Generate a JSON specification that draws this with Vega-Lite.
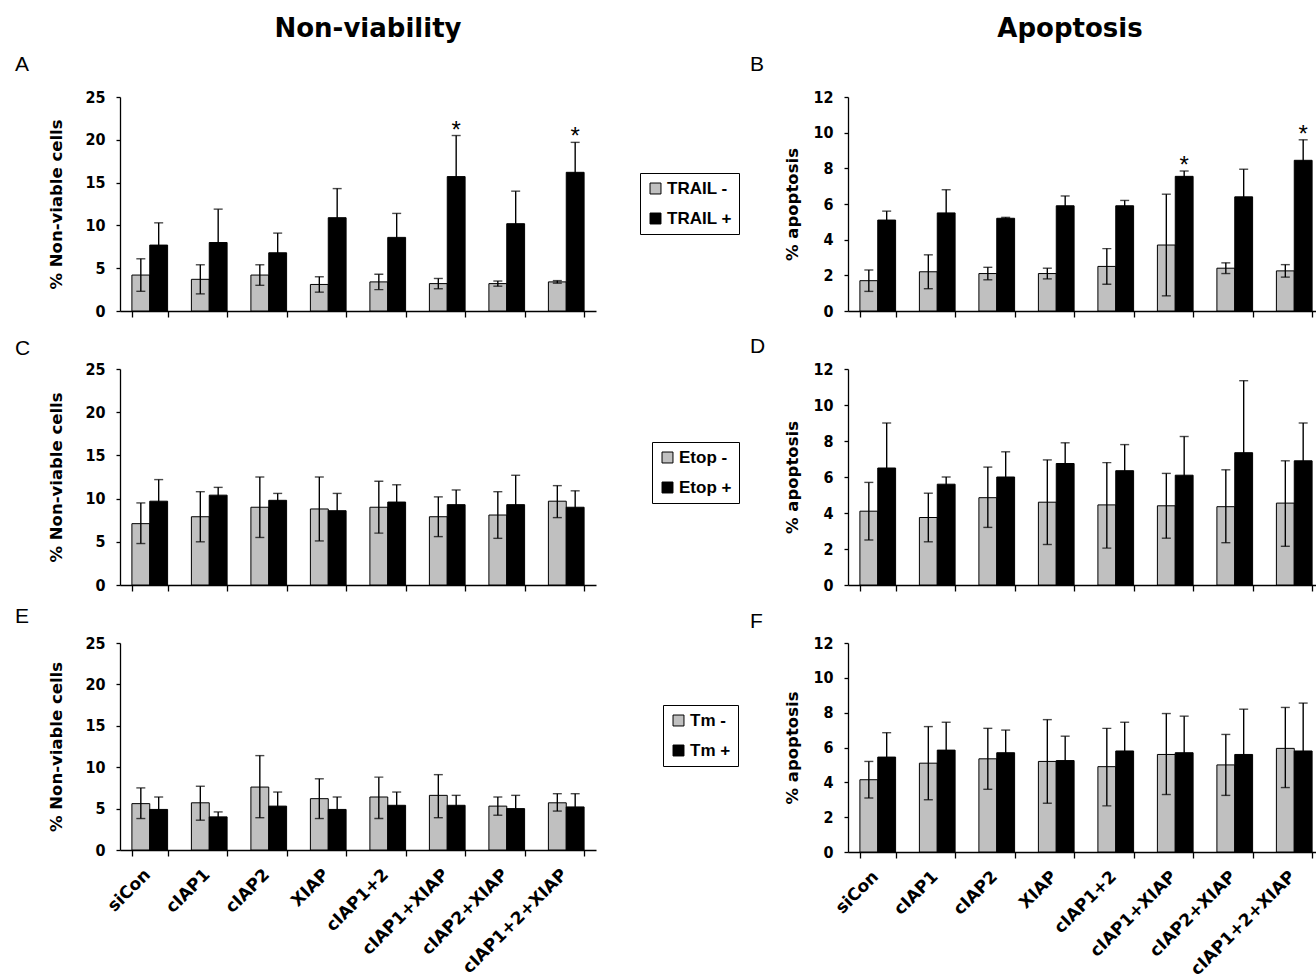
{
  "$schema": "https://vega.github.io/schema/vega-lite/v6.json",
  "padding": {"left": 15, "top": 16, "right": 0, "bottom": 0},
  "background": "white",
  "datasets": {
    "bars": [
      {"p":"A","c":"siCon","g":"-","v":4.2,"lo":2.3,"hi":6.1,"s":""},
      {"p":"A","c":"cIAP1","g":"-","v":3.7,"lo":2.0,"hi":5.4,"s":""},
      {"p":"A","c":"cIAP2","g":"-","v":4.2,"lo":3.0,"hi":5.4,"s":""},
      {"p":"A","c":"XIAP","g":"-","v":3.1,"lo":2.2,"hi":4.0,"s":""},
      {"p":"A","c":"cIAP1+2","g":"-","v":3.4,"lo":2.5,"hi":4.3,"s":""},
      {"p":"A","c":"cIAP1+XIAP","g":"-","v":3.2,"lo":2.6,"hi":3.8,"s":""},
      {"p":"A","c":"cIAP2+XIAP","g":"-","v":3.2,"lo":2.9,"hi":3.5,"s":""},
      {"p":"A","c":"cIAP1+2+XIAP","g":"-","v":3.4,"lo":3.25,"hi":3.55,"s":""},
      {"p":"A","c":"siCon","g":"+","v":7.7,"lo":5.1,"hi":10.3,"s":""},
      {"p":"A","c":"cIAP1","g":"+","v":8.0,"lo":4.1,"hi":11.9,"s":""},
      {"p":"A","c":"cIAP2","g":"+","v":6.8,"lo":4.5,"hi":9.1,"s":""},
      {"p":"A","c":"XIAP","g":"+","v":10.9,"lo":7.5,"hi":14.3,"s":""},
      {"p":"A","c":"cIAP1+2","g":"+","v":8.6,"lo":5.8,"hi":11.4,"s":""},
      {"p":"A","c":"cIAP1+XIAP","g":"+","v":15.7,"lo":10.9,"hi":20.5,"s":"*"},
      {"p":"A","c":"cIAP2+XIAP","g":"+","v":10.2,"lo":6.4,"hi":14.0,"s":""},
      {"p":"A","c":"cIAP1+2+XIAP","g":"+","v":16.2,"lo":12.7,"hi":19.7,"s":"*"},

      {"p":"B","c":"siCon","g":"-","v":1.7,"lo":1.1,"hi":2.3,"s":""},
      {"p":"B","c":"cIAP1","g":"-","v":2.2,"lo":1.25,"hi":3.15,"s":""},
      {"p":"B","c":"cIAP2","g":"-","v":2.1,"lo":1.75,"hi":2.45,"s":""},
      {"p":"B","c":"XIAP","g":"-","v":2.1,"lo":1.8,"hi":2.4,"s":""},
      {"p":"B","c":"cIAP1+2","g":"-","v":2.5,"lo":1.5,"hi":3.5,"s":""},
      {"p":"B","c":"cIAP1+XIAP","g":"-","v":3.7,"lo":0.85,"hi":6.55,"s":""},
      {"p":"B","c":"cIAP2+XIAP","g":"-","v":2.4,"lo":2.1,"hi":2.7,"s":""},
      {"p":"B","c":"cIAP1+2+XIAP","g":"-","v":2.25,"lo":1.9,"hi":2.6,"s":""},
      {"p":"B","c":"siCon","g":"+","v":5.1,"lo":4.6,"hi":5.6,"s":""},
      {"p":"B","c":"cIAP1","g":"+","v":5.5,"lo":4.2,"hi":6.8,"s":""},
      {"p":"B","c":"cIAP2","g":"+","v":5.2,"lo":5.15,"hi":5.25,"s":""},
      {"p":"B","c":"XIAP","g":"+","v":5.9,"lo":5.35,"hi":6.45,"s":""},
      {"p":"B","c":"cIAP1+2","g":"+","v":5.9,"lo":5.6,"hi":6.2,"s":""},
      {"p":"B","c":"cIAP1+XIAP","g":"+","v":7.55,"lo":7.25,"hi":7.85,"s":"*"},
      {"p":"B","c":"cIAP2+XIAP","g":"+","v":6.4,"lo":4.85,"hi":7.95,"s":""},
      {"p":"B","c":"cIAP1+2+XIAP","g":"+","v":8.45,"lo":7.3,"hi":9.6,"s":"*"},

      {"p":"C","c":"siCon","g":"-","v":7.1,"lo":4.8,"hi":9.5,"s":""},
      {"p":"C","c":"cIAP1","g":"-","v":7.9,"lo":5.0,"hi":10.8,"s":""},
      {"p":"C","c":"cIAP2","g":"-","v":9.0,"lo":5.5,"hi":12.5,"s":""},
      {"p":"C","c":"XIAP","g":"-","v":8.8,"lo":5.1,"hi":12.5,"s":""},
      {"p":"C","c":"cIAP1+2","g":"-","v":9.0,"lo":6.0,"hi":12.0,"s":""},
      {"p":"C","c":"cIAP1+XIAP","g":"-","v":7.9,"lo":5.6,"hi":10.2,"s":""},
      {"p":"C","c":"cIAP2+XIAP","g":"-","v":8.1,"lo":5.4,"hi":10.8,"s":""},
      {"p":"C","c":"cIAP1+2+XIAP","g":"-","v":9.7,"lo":7.8,"hi":11.5,"s":""},
      {"p":"C","c":"siCon","g":"+","v":9.7,"lo":7.2,"hi":12.2,"s":""},
      {"p":"C","c":"cIAP1","g":"+","v":10.4,"lo":9.5,"hi":11.3,"s":""},
      {"p":"C","c":"cIAP2","g":"+","v":9.8,"lo":9.0,"hi":10.6,"s":""},
      {"p":"C","c":"XIAP","g":"+","v":8.6,"lo":6.6,"hi":10.6,"s":""},
      {"p":"C","c":"cIAP1+2","g":"+","v":9.6,"lo":7.6,"hi":11.6,"s":""},
      {"p":"C","c":"cIAP1+XIAP","g":"+","v":9.3,"lo":7.6,"hi":11.0,"s":""},
      {"p":"C","c":"cIAP2+XIAP","g":"+","v":9.3,"lo":5.9,"hi":12.7,"s":""},
      {"p":"C","c":"cIAP1+2+XIAP","g":"+","v":9.0,"lo":7.1,"hi":10.9,"s":""},

      {"p":"D","c":"siCon","g":"-","v":4.1,"lo":2.5,"hi":5.7,"s":""},
      {"p":"D","c":"cIAP1","g":"-","v":3.75,"lo":2.4,"hi":5.1,"s":""},
      {"p":"D","c":"cIAP2","g":"-","v":4.85,"lo":3.2,"hi":6.55,"s":""},
      {"p":"D","c":"XIAP","g":"-","v":4.6,"lo":2.25,"hi":6.95,"s":""},
      {"p":"D","c":"cIAP1+2","g":"-","v":4.45,"lo":2.05,"hi":6.8,"s":""},
      {"p":"D","c":"cIAP1+XIAP","g":"-","v":4.4,"lo":2.6,"hi":6.2,"s":""},
      {"p":"D","c":"cIAP2+XIAP","g":"-","v":4.35,"lo":2.35,"hi":6.4,"s":""},
      {"p":"D","c":"cIAP1+2+XIAP","g":"-","v":4.55,"lo":2.15,"hi":6.9,"s":""},
      {"p":"D","c":"siCon","g":"+","v":6.5,"lo":4.0,"hi":9.0,"s":""},
      {"p":"D","c":"cIAP1","g":"+","v":5.6,"lo":5.2,"hi":6.0,"s":""},
      {"p":"D","c":"cIAP2","g":"+","v":6.0,"lo":4.6,"hi":7.4,"s":""},
      {"p":"D","c":"XIAP","g":"+","v":6.75,"lo":5.6,"hi":7.9,"s":""},
      {"p":"D","c":"cIAP1+2","g":"+","v":6.35,"lo":4.9,"hi":7.8,"s":""},
      {"p":"D","c":"cIAP1+XIAP","g":"+","v":6.1,"lo":3.95,"hi":8.25,"s":""},
      {"p":"D","c":"cIAP2+XIAP","g":"+","v":7.35,"lo":3.35,"hi":11.35,"s":""},
      {"p":"D","c":"cIAP1+2+XIAP","g":"+","v":6.9,"lo":4.8,"hi":9.0,"s":""},

      {"p":"E","c":"siCon","g":"-","v":5.6,"lo":3.8,"hi":7.5,"s":""},
      {"p":"E","c":"cIAP1","g":"-","v":5.7,"lo":3.6,"hi":7.7,"s":""},
      {"p":"E","c":"cIAP2","g":"-","v":7.6,"lo":3.9,"hi":11.4,"s":""},
      {"p":"E","c":"XIAP","g":"-","v":6.2,"lo":3.8,"hi":8.6,"s":""},
      {"p":"E","c":"cIAP1+2","g":"-","v":6.4,"lo":3.8,"hi":8.8,"s":""},
      {"p":"E","c":"cIAP1+XIAP","g":"-","v":6.6,"lo":3.9,"hi":9.1,"s":""},
      {"p":"E","c":"cIAP2+XIAP","g":"-","v":5.3,"lo":4.2,"hi":6.4,"s":""},
      {"p":"E","c":"cIAP1+2+XIAP","g":"-","v":5.7,"lo":4.7,"hi":6.8,"s":""},
      {"p":"E","c":"siCon","g":"+","v":4.9,"lo":3.4,"hi":6.4,"s":""},
      {"p":"E","c":"cIAP1","g":"+","v":4.0,"lo":3.4,"hi":4.6,"s":""},
      {"p":"E","c":"cIAP2","g":"+","v":5.3,"lo":3.6,"hi":7.0,"s":""},
      {"p":"E","c":"XIAP","g":"+","v":4.9,"lo":3.4,"hi":6.4,"s":""},
      {"p":"E","c":"cIAP1+2","g":"+","v":5.4,"lo":3.8,"hi":7.0,"s":""},
      {"p":"E","c":"cIAP1+XIAP","g":"+","v":5.4,"lo":4.1,"hi":6.6,"s":""},
      {"p":"E","c":"cIAP2+XIAP","g":"+","v":5.0,"lo":3.4,"hi":6.6,"s":""},
      {"p":"E","c":"cIAP1+2+XIAP","g":"+","v":5.2,"lo":3.6,"hi":6.8,"s":""},

      {"p":"F","c":"siCon","g":"-","v":4.15,"lo":3.1,"hi":5.2,"s":""},
      {"p":"F","c":"cIAP1","g":"-","v":5.1,"lo":3.0,"hi":7.2,"s":""},
      {"p":"F","c":"cIAP2","g":"-","v":5.35,"lo":3.6,"hi":7.1,"s":""},
      {"p":"F","c":"XIAP","g":"-","v":5.2,"lo":2.8,"hi":7.6,"s":""},
      {"p":"F","c":"cIAP1+2","g":"-","v":4.9,"lo":2.65,"hi":7.1,"s":""},
      {"p":"F","c":"cIAP1+XIAP","g":"-","v":5.6,"lo":3.3,"hi":7.95,"s":""},
      {"p":"F","c":"cIAP2+XIAP","g":"-","v":5.0,"lo":3.25,"hi":6.75,"s":""},
      {"p":"F","c":"cIAP1+2+XIAP","g":"-","v":5.95,"lo":3.7,"hi":8.3,"s":""},
      {"p":"F","c":"siCon","g":"+","v":5.45,"lo":4.05,"hi":6.85,"s":""},
      {"p":"F","c":"cIAP1","g":"+","v":5.85,"lo":4.25,"hi":7.45,"s":""},
      {"p":"F","c":"cIAP2","g":"+","v":5.7,"lo":4.4,"hi":7.0,"s":""},
      {"p":"F","c":"XIAP","g":"+","v":5.25,"lo":3.85,"hi":6.65,"s":""},
      {"p":"F","c":"cIAP1+2","g":"+","v":5.8,"lo":4.15,"hi":7.45,"s":""},
      {"p":"F","c":"cIAP1+XIAP","g":"+","v":5.7,"lo":3.65,"hi":7.8,"s":""},
      {"p":"F","c":"cIAP2+XIAP","g":"+","v":5.6,"lo":3.0,"hi":8.2,"s":""},
      {"p":"F","c":"cIAP1+2+XIAP","g":"+","v":5.8,"lo":3.1,"hi":8.55,"s":""}
    ],
    "headL": [{"t": "Non-viability"}],
    "headR": [{"t": "Apoptosis"}]
  },
  "data": {"name": "bars"},
  "columns": 2,
  "bounds": "flush",
  "align": "each",
  "spacing": {"row": 58, "column": 252},
  "resolve": {
    "scale": {"color": "independent", "y": "independent", "x": "independent", "xOffset": "independent"},
    "legend": {"color": "independent"}
  },
  "concat": [
    {
      "width": 476, "height": 20,
      "data": {"name": "headL"},
      "mark": {"type": "text", "font": "DejaVu Sans", "fontSize": 26, "fontWeight": "bold", "dx": 10, "color": "black"},
      "encoding": {"text": {"field": "t"}}
    },
    {
      "width": 476, "height": 20,
      "data": {"name": "headR"},
      "mark": {"type": "text", "font": "DejaVu Sans", "fontSize": 26, "fontWeight": "bold", "dx": -16, "color": "black"},
      "encoding": {"text": {"field": "t"}}
    },
    {
      "width": 476, "height": 214,
      "title": {"text": "A", "dx": -105, "offset": 14},
      "transform": [{"filter": "datum.p === 'A'"}],
      "encoding": {
        "x": {"field": "c", "type": "nominal", "sort": null, "title": null, "scale": {"paddingInner": 0.4, "paddingOuter": 0.2}, "axis": {"labels": false}},
        "xOffset": {"field": "g", "type": "nominal", "scale": {"domain": ["-", "+"]}}
      },
      "layer": [
        {"mark": {"type": "bar", "stroke": "black", "strokeWidth": 1},
         "encoding": {
           "y": {"field": "v", "type": "quantitative", "title": "% Non-viable cells", "scale": {"domain": [0, 25], "nice": false}, "axis": {"values": [0, 5, 10, 15, 20, 25], "titleX": -64}},
           "color": {"field": "g", "type": "nominal", "scale": {"domain": ["-", "+"], "range": ["#c0c0c0", "#000000"]}, "legend": {"labelExpr": "'TRAIL ' + datum.label", "legendX": 520, "legendY": 76}}
         }},
        {"mark": {"type": "rule", "color": "black", "strokeWidth": 1.4},
         "encoding": {"y": {"field": "lo", "type": "quantitative", "title": "% Non-viable cells", "axis": {"values": [0, 5, 10, 15, 20, 25], "titleX": -64}}, "y2": {"field": "hi"}}},
        {"mark": {"type": "tick", "color": "black", "thickness": 1.4, "size": 9},
         "encoding": {"y": {"field": "lo", "type": "quantitative", "title": "% Non-viable cells", "axis": {"values": [0, 5, 10, 15, 20, 25], "titleX": -64}}}},
        {"mark": {"type": "tick", "color": "black", "thickness": 1.4, "size": 9},
         "encoding": {"y": {"field": "hi", "type": "quantitative", "title": "% Non-viable cells", "axis": {"values": [0, 5, 10, 15, 20, 25], "titleX": -64}}}},
        {"transform": [{"filter": "datum.s === '*'"}],
         "mark": {"type": "text", "font": "Liberation Sans", "fontSize": 24, "baseline": "alphabetic", "dy": 2, "color": "black"},
         "encoding": {"y": {"field": "hi", "type": "quantitative", "title": "% Non-viable cells", "axis": {"values": [0, 5, 10, 15, 20, 25], "titleX": -64}}, "text": {"field": "s"}}}
      ]
    },
    {
      "width": 476, "height": 214,
      "title": {"text": "B", "dx": -98, "offset": 14},
      "transform": [{"filter": "datum.p === 'B'"}],
      "encoding": {
        "x": {"field": "c", "type": "nominal", "sort": null, "title": null, "scale": {"paddingInner": 0.4, "paddingOuter": 0.2}, "axis": {"labels": false}},
        "xOffset": {"field": "g", "type": "nominal", "scale": {"domain": ["-", "+"]}}
      },
      "layer": [
        {"mark": {"type": "bar", "stroke": "black", "strokeWidth": 1},
         "encoding": {
           "y": {"field": "v", "type": "quantitative", "title": "% apoptosis", "scale": {"domain": [0, 12], "nice": false}, "axis": {"values": [0, 2, 4, 6, 8, 10, 12], "titleX": -56}},
           "color": {"field": "g", "type": "nominal", "scale": {"domain": ["-", "+"], "range": ["#c0c0c0", "#000000"]}, "legend": null}
         }},
        {"mark": {"type": "rule", "color": "black", "strokeWidth": 1.4},
         "encoding": {"y": {"field": "lo", "type": "quantitative", "title": "% apoptosis", "axis": {"values": [0, 2, 4, 6, 8, 10, 12], "titleX": -56}}, "y2": {"field": "hi"}}},
        {"mark": {"type": "tick", "color": "black", "thickness": 1.4, "size": 9},
         "encoding": {"y": {"field": "lo", "type": "quantitative", "title": "% apoptosis", "axis": {"values": [0, 2, 4, 6, 8, 10, 12], "titleX": -56}}}},
        {"mark": {"type": "tick", "color": "black", "thickness": 1.4, "size": 9},
         "encoding": {"y": {"field": "hi", "type": "quantitative", "title": "% apoptosis", "axis": {"values": [0, 2, 4, 6, 8, 10, 12], "titleX": -56}}}},
        {"transform": [{"filter": "datum.s === '*'"}],
         "mark": {"type": "text", "font": "Liberation Sans", "fontSize": 24, "baseline": "alphabetic", "dy": 2, "color": "black"},
         "encoding": {"y": {"field": "hi", "type": "quantitative", "title": "% apoptosis", "axis": {"values": [0, 2, 4, 6, 8, 10, 12], "titleX": -56}}, "text": {"field": "s"}}}
      ]
    },
    {
      "width": 476, "height": 216,
      "title": {"text": "C", "dx": -105, "offset": 2},
      "transform": [{"filter": "datum.p === 'C'"}],
      "encoding": {
        "x": {"field": "c", "type": "nominal", "sort": null, "title": null, "scale": {"paddingInner": 0.4, "paddingOuter": 0.2}, "axis": {"labels": false}},
        "xOffset": {"field": "g", "type": "nominal", "scale": {"domain": ["-", "+"]}}
      },
      "layer": [
        {"mark": {"type": "bar", "stroke": "black", "strokeWidth": 1},
         "encoding": {
           "y": {"field": "v", "type": "quantitative", "title": "% Non-viable cells", "scale": {"domain": [0, 25], "nice": false}, "axis": {"values": [0, 5, 10, 15, 20, 25], "titleX": -64}},
           "color": {"field": "g", "type": "nominal", "scale": {"domain": ["-", "+"], "range": ["#c0c0c0", "#000000"]}, "legend": {"labelExpr": "'Etop ' + datum.label", "legendX": 532, "legendY": 73}}
         }},
        {"mark": {"type": "rule", "color": "black", "strokeWidth": 1.4},
         "encoding": {"y": {"field": "lo", "type": "quantitative", "title": "% Non-viable cells", "axis": {"values": [0, 5, 10, 15, 20, 25], "titleX": -64}}, "y2": {"field": "hi"}}},
        {"mark": {"type": "tick", "color": "black", "thickness": 1.4, "size": 9},
         "encoding": {"y": {"field": "lo", "type": "quantitative", "title": "% Non-viable cells", "axis": {"values": [0, 5, 10, 15, 20, 25], "titleX": -64}}}},
        {"mark": {"type": "tick", "color": "black", "thickness": 1.4, "size": 9},
         "encoding": {"y": {"field": "hi", "type": "quantitative", "title": "% Non-viable cells", "axis": {"values": [0, 5, 10, 15, 20, 25], "titleX": -64}}}}
      ]
    },
    {
      "width": 476, "height": 216,
      "title": {"text": "D", "dx": -98, "offset": 4},
      "transform": [{"filter": "datum.p === 'D'"}],
      "encoding": {
        "x": {"field": "c", "type": "nominal", "sort": null, "title": null, "scale": {"paddingInner": 0.4, "paddingOuter": 0.2}, "axis": {"labels": false}},
        "xOffset": {"field": "g", "type": "nominal", "scale": {"domain": ["-", "+"]}}
      },
      "layer": [
        {"mark": {"type": "bar", "stroke": "black", "strokeWidth": 1},
         "encoding": {
           "y": {"field": "v", "type": "quantitative", "title": "% apoptosis", "scale": {"domain": [0, 12], "nice": false}, "axis": {"values": [0, 2, 4, 6, 8, 10, 12], "titleX": -56}},
           "color": {"field": "g", "type": "nominal", "scale": {"domain": ["-", "+"], "range": ["#c0c0c0", "#000000"]}, "legend": null}
         }},
        {"mark": {"type": "rule", "color": "black", "strokeWidth": 1.4},
         "encoding": {"y": {"field": "lo", "type": "quantitative", "title": "% apoptosis", "axis": {"values": [0, 2, 4, 6, 8, 10, 12], "titleX": -56}}, "y2": {"field": "hi"}}},
        {"mark": {"type": "tick", "color": "black", "thickness": 1.4, "size": 9},
         "encoding": {"y": {"field": "lo", "type": "quantitative", "title": "% apoptosis", "axis": {"values": [0, 2, 4, 6, 8, 10, 12], "titleX": -56}}}},
        {"mark": {"type": "tick", "color": "black", "thickness": 1.4, "size": 9},
         "encoding": {"y": {"field": "hi", "type": "quantitative", "title": "% apoptosis", "axis": {"values": [0, 2, 4, 6, 8, 10, 12], "titleX": -56}}}}
      ]
    },
    {
      "width": 476, "height": 207,
      "title": {"text": "E", "dx": -105, "offset": 8},
      "transform": [{"filter": "datum.p === 'E'"}],
      "encoding": {
        "x": {"field": "c", "type": "nominal", "sort": null, "title": null, "scale": {"paddingInner": 0.4, "paddingOuter": 0.2}, "axis": {"labels": true}},
        "xOffset": {"field": "g", "type": "nominal", "scale": {"domain": ["-", "+"]}}
      },
      "layer": [
        {"mark": {"type": "bar", "stroke": "black", "strokeWidth": 1},
         "encoding": {
           "y": {"field": "v", "type": "quantitative", "title": "% Non-viable cells", "scale": {"domain": [0, 25], "nice": false}, "axis": {"values": [0, 5, 10, 15, 20, 25], "titleX": -64}},
           "color": {"field": "g", "type": "nominal", "scale": {"domain": ["-", "+"], "range": ["#c0c0c0", "#000000"]}, "legend": {"labelExpr": "'Tm ' + datum.label", "legendX": 543, "legendY": 62}}
         }},
        {"mark": {"type": "rule", "color": "black", "strokeWidth": 1.4},
         "encoding": {"y": {"field": "lo", "type": "quantitative", "title": "% Non-viable cells", "axis": {"values": [0, 5, 10, 15, 20, 25], "titleX": -64}}, "y2": {"field": "hi"}}},
        {"mark": {"type": "tick", "color": "black", "thickness": 1.4, "size": 9},
         "encoding": {"y": {"field": "lo", "type": "quantitative", "title": "% Non-viable cells", "axis": {"values": [0, 5, 10, 15, 20, 25], "titleX": -64}}}},
        {"mark": {"type": "tick", "color": "black", "thickness": 1.4, "size": 9},
         "encoding": {"y": {"field": "hi", "type": "quantitative", "title": "% Non-viable cells", "axis": {"values": [0, 5, 10, 15, 20, 25], "titleX": -64}}}}
      ]
    },
    {
      "width": 476, "height": 209,
      "title": {"text": "F", "dx": -98, "offset": 3},
      "transform": [{"filter": "datum.p === 'F'"}],
      "encoding": {
        "x": {"field": "c", "type": "nominal", "sort": null, "title": null, "scale": {"paddingInner": 0.4, "paddingOuter": 0.2}, "axis": {"labels": true}},
        "xOffset": {"field": "g", "type": "nominal", "scale": {"domain": ["-", "+"]}}
      },
      "layer": [
        {"mark": {"type": "bar", "stroke": "black", "strokeWidth": 1},
         "encoding": {
           "y": {"field": "v", "type": "quantitative", "title": "% apoptosis", "scale": {"domain": [0, 12], "nice": false}, "axis": {"values": [0, 2, 4, 6, 8, 10, 12], "titleX": -56}},
           "color": {"field": "g", "type": "nominal", "scale": {"domain": ["-", "+"], "range": ["#c0c0c0", "#000000"]}, "legend": null}
         }},
        {"mark": {"type": "rule", "color": "black", "strokeWidth": 1.4},
         "encoding": {"y": {"field": "lo", "type": "quantitative", "title": "% apoptosis", "axis": {"values": [0, 2, 4, 6, 8, 10, 12], "titleX": -56}}, "y2": {"field": "hi"}}},
        {"mark": {"type": "tick", "color": "black", "thickness": 1.4, "size": 9},
         "encoding": {"y": {"field": "lo", "type": "quantitative", "title": "% apoptosis", "axis": {"values": [0, 2, 4, 6, 8, 10, 12], "titleX": -56}}}},
        {"mark": {"type": "tick", "color": "black", "thickness": 1.4, "size": 9},
         "encoding": {"y": {"field": "hi", "type": "quantitative", "title": "% apoptosis", "axis": {"values": [0, 2, 4, 6, 8, 10, 12], "titleX": -56}}}}
      ]
    }
  ],
  "config": {
    "view": {"stroke": null},
    "font": "Liberation Sans",
    "title": {"anchor": "start", "frame": "group", "baseline": "bottom", "font": "Liberation Sans", "fontSize": 21, "fontWeight": "normal", "color": "black"},
    "axis": {"grid": false, "domainColor": "black", "tickColor": "black", "labelColor": "black", "titleColor": "black", "domainWidth": 1.3, "tickWidth": 1.3},
    "axisY": {"labelFont": "DejaVu Sans Condensed, Liberation Sans Narrow, DejaVu Sans", "labelFontWeight": "bold", "labelFontSize": 16, "tickSize": 4, "labelPadding": 11, "labelOverlap": false, "titleFont": "DejaVu Sans", "titleFontSize": 16.5, "titleFontWeight": "bold", "titleBaseline": "middle"},
    "axisX": {"tickBand": "extent", "tickSize": 6, "labelFont": "DejaVu Sans", "labelFontWeight": "bold", "labelFontSize": 17, "labelAngle": -45, "labelPadding": 10, "labelOffset": -8, "labelOverlap": false},
    "legend": {"orient": "none", "title": null, "strokeColor": "black", "fillColor": "white", "padding": 7, "symbolType": "square", "symbolSize": 120, "symbolStrokeColor": "black", "symbolStrokeWidth": 1, "labelFont": "Liberation Sans", "labelFontWeight": "bold", "labelFontSize": 17, "labelColor": "black", "rowPadding": 12, "labelOffset": 3}
  }
}
